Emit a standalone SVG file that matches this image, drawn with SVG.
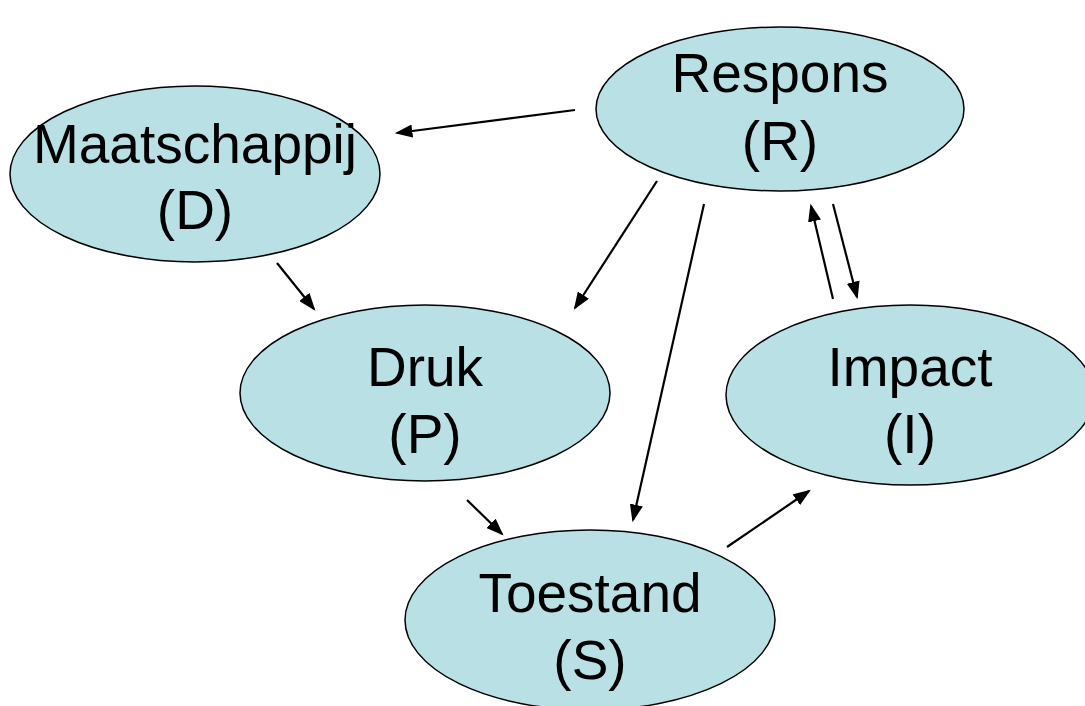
<svg xmlns="http://www.w3.org/2000/svg" width="1085" height="706" viewBox="0 0 1085 706">
<style>
.n{fill:#B9E0E4;stroke:#000;stroke-width:1.5}
.t{font-family:"Liberation Sans",Arial,sans-serif;font-size:55px;fill:#000;text-anchor:middle}
.c line{stroke:#000;stroke-width:2.2;marker-end:url(#a)}
</style>
<defs>
<marker id="a" markerWidth="8" markerHeight="6" refX="7" refY="3" orient="auto" markerUnits="strokeWidth">
<path d="M0,0 L8,3 L0,6 Z" fill="#000"/>
</marker>
</defs>
<rect width="1085" height="706" fill="#fff"/>
<g id="R"><ellipse class="n" cx="780" cy="109" rx="184" ry="82"/><text class="t" x="780" y="92">Respons</text><text class="t" x="780" y="160">(R)</text></g>
<g id="D"><ellipse class="n" cx="195" cy="174" rx="185" ry="88"/><text class="t" x="195" y="163">Maatschappij</text><text class="t" x="195" y="229">(D)</text></g>
<g id="P"><ellipse class="n" cx="425" cy="393" rx="185" ry="88"/><text class="t" x="425" y="386">Druk</text><text class="t" x="425" y="453">(P)</text></g>
<g id="I"><ellipse class="n" cx="910" cy="395" rx="184" ry="90"/><text class="t" x="910" y="386">Impact</text><text class="t" x="910" y="453">(I)</text></g>
<g id="S"><ellipse class="n" cx="590" cy="620" rx="185" ry="90"/><text class="t" x="590" y="612">Toestand</text><text class="t" x="590" y="679">(S)</text></g>
<g class="c" id="connectors">
<line x1="575" y1="110" x2="397" y2="133"/>
<line x1="277" y1="263" x2="314" y2="309"/>
<line x1="657" y1="181" x2="575" y2="308"/>
<line x1="704" y1="204" x2="633" y2="520"/>
<line x1="467" y1="500" x2="502" y2="534"/>
<line x1="727" y1="547" x2="809" y2="491"/>
<line x1="833" y1="299" x2="811" y2="206"/>
<line x1="833" y1="204" x2="857" y2="297"/>
</g>
</svg>
